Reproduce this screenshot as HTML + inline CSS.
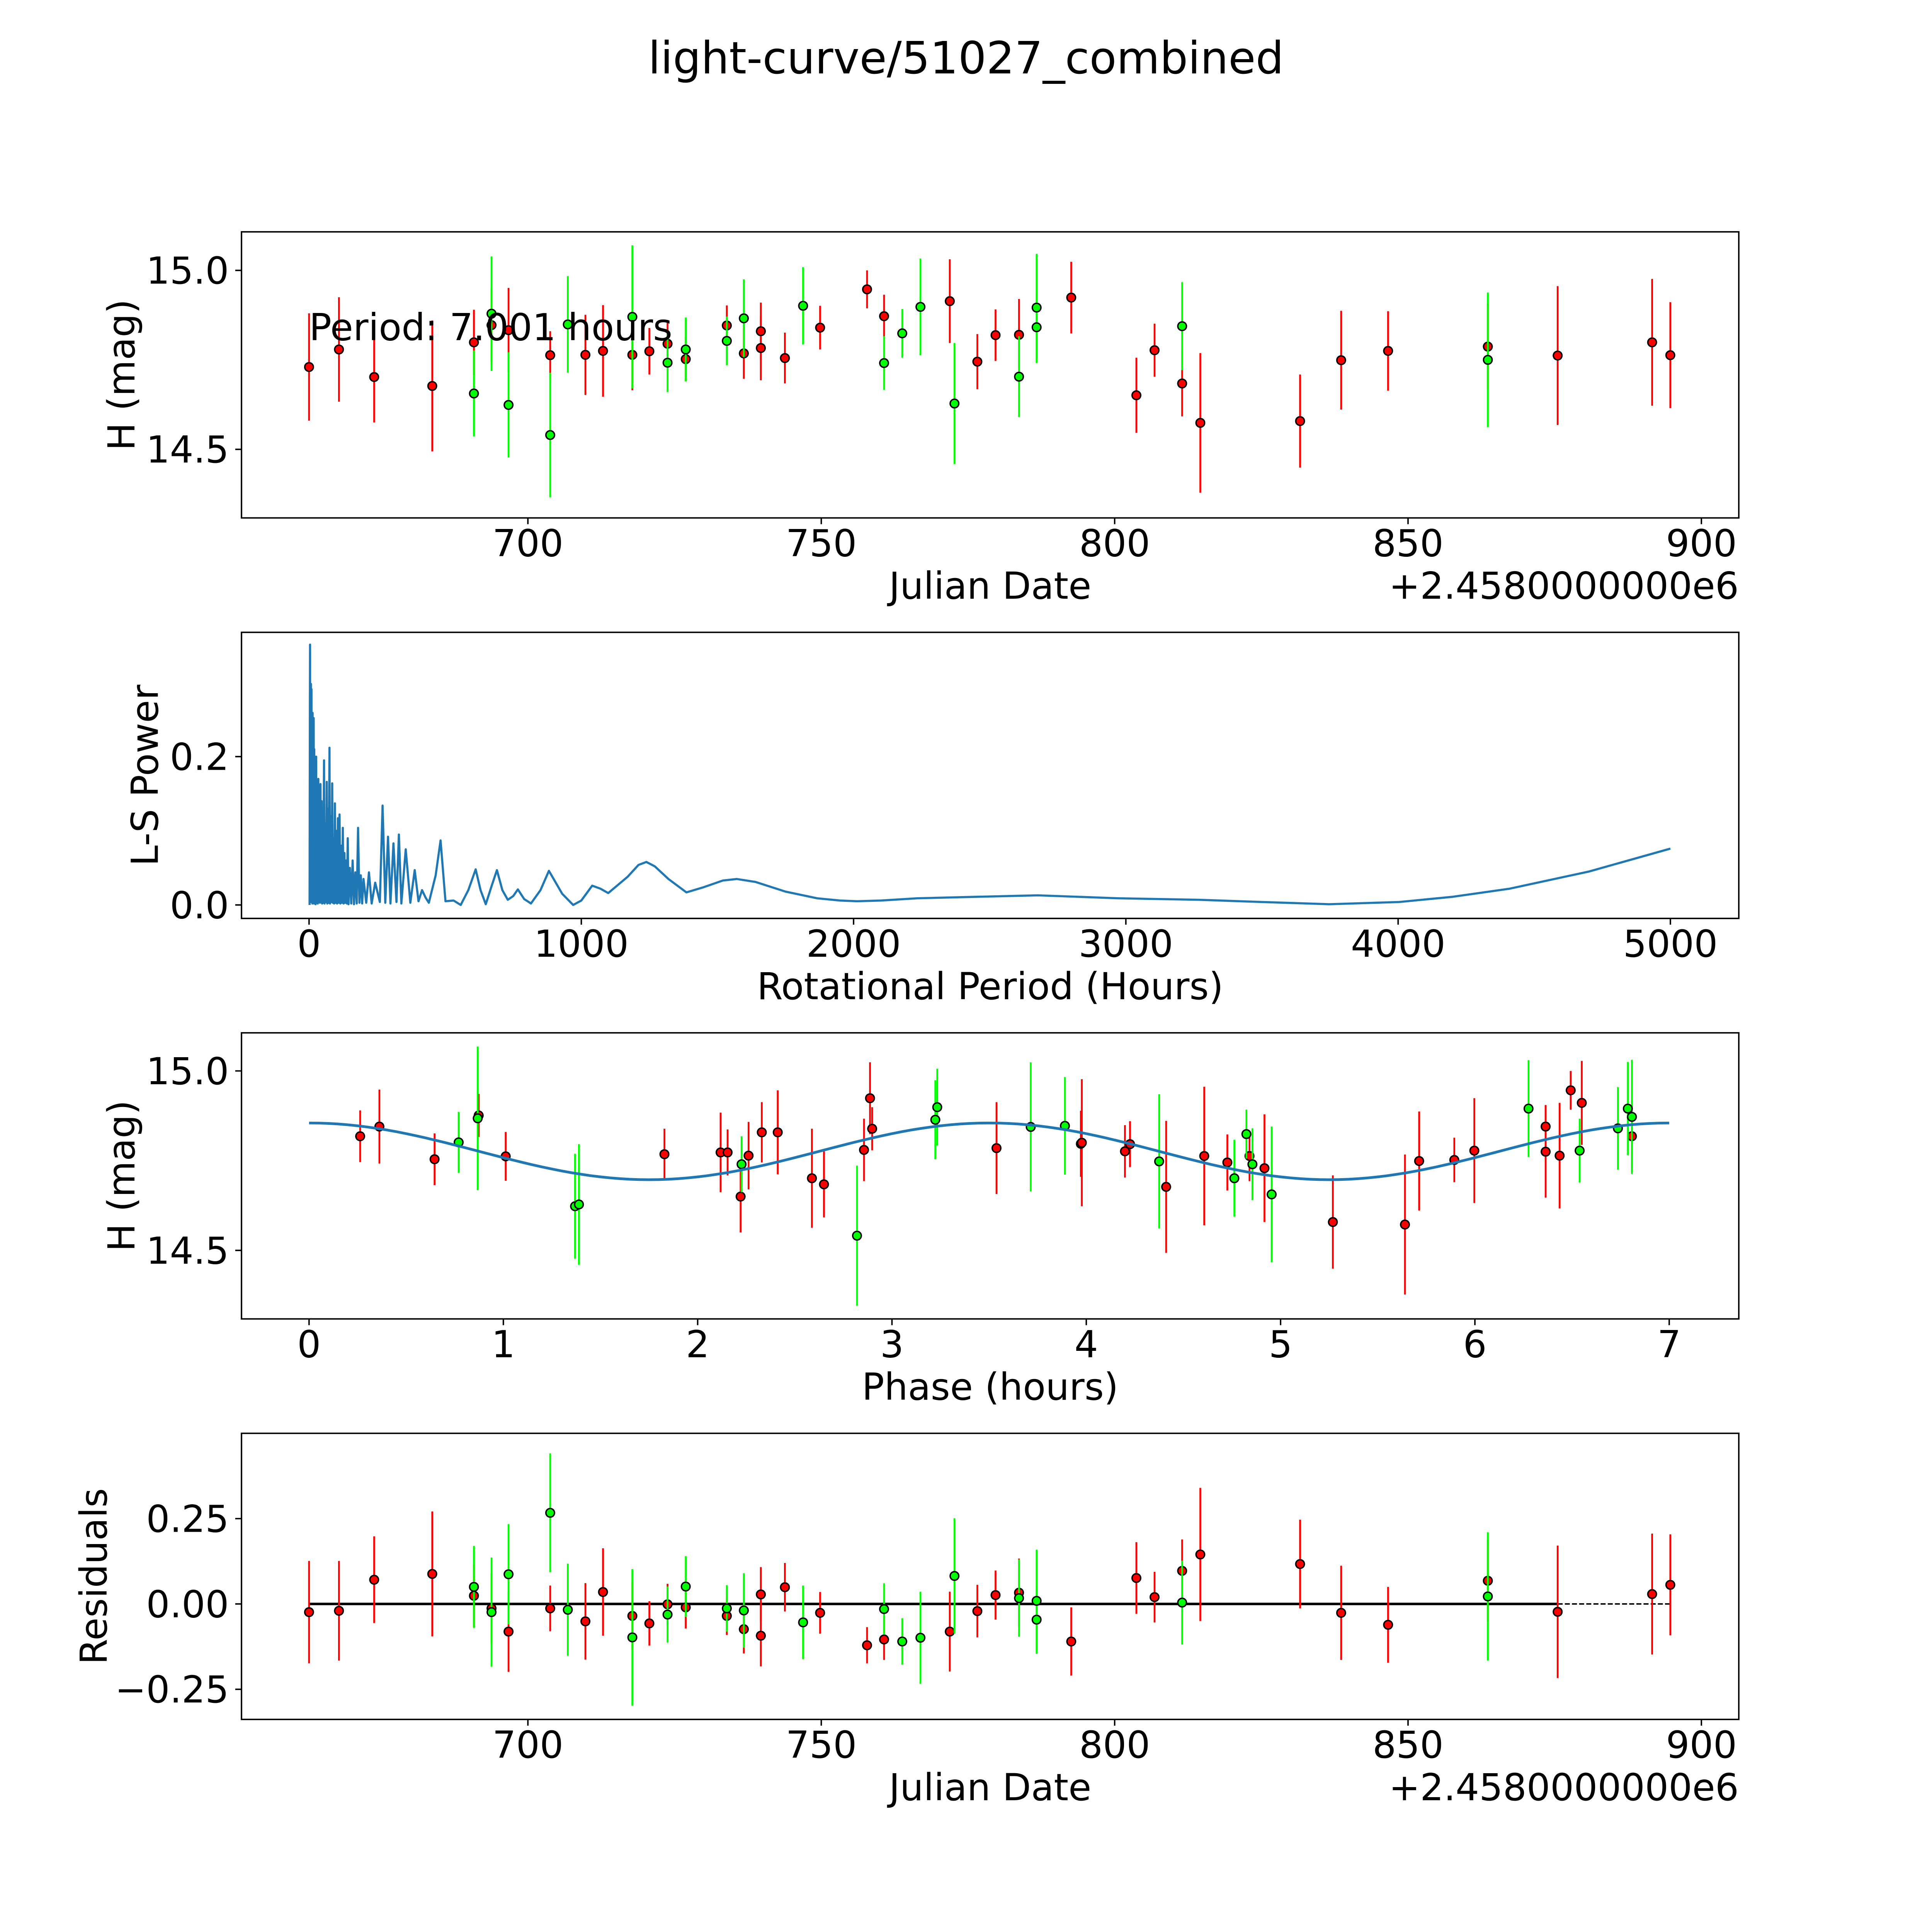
<!DOCTYPE html>
<html><head><meta charset="utf-8"><style>
html,body{margin:0;padding:0;background:#fff;width:100%;height:100%;overflow:hidden}
svg{display:block;position:absolute;left:0;top:0;width:100vw;height:100vh}
text{font-family:"DejaVu Sans","Liberation Sans",sans-serif;fill:#000}
</style></head><body>
<svg id="fig" xmlns="http://www.w3.org/2000/svg" viewBox="0 0 5400 5400" preserveAspectRatio="none">
<rect width="5400" height="5400" fill="#fff"/>
<text x="2700" y="205" font-size="124" text-anchor="middle">light-curve/51027_combined</text>
</svg>
<script>
// ---- Panel 1 / 4 data (Julian date offset from 2458000) ----
const redDates = [662.7,667.8,673.8,683.7,690.8,693.8,696.7,703.8,709.8,712.8,717.8,720.7,723.8,726.9,733.9,736.8,739.7,739.7,743.8,749.8,757.8,760.7,771.9,776.6,779.7,783.7,792.6,803.7,806.8,811.5,814.6,831.6,838.6,846.6,863.6,875.5,891.6,894.7];
const redMags = [14.730,14.779,14.702,14.677,14.799,14.847,14.833,14.763,14.764,14.775,14.764,14.774,14.795,14.752,14.846,14.768,14.830,14.783,14.755,14.840,14.947,14.872,14.914,14.745,14.819,14.820,14.924,14.651,14.777,14.684,14.574,14.579,14.749,14.775,14.787,14.762,14.799,14.763];
const redErrs = [0.150,0.146,0.127,0.183,0.091,0.103,0.118,0.067,0.112,0.128,0.099,0.065,0.060,0.062,0.056,0.071,0.080,0.090,0.071,0.061,0.053,0.060,0.117,0.077,0.072,0.100,0.100,0.105,0.074,0.092,0.195,0.130,0.138,0.111,0.120,0.194,0.177,0.148];
const redResid = [-0.024,-0.020,0.071,0.088,0.024,-0.013,-0.081,-0.013,-0.051,0.035,-0.035,-0.057,-0.001,-0.010,-0.035,-0.074,0.028,-0.093,0.049,-0.026,-0.121,-0.104,-0.081,-0.021,0.026,0.033,-0.110,0.076,0.020,0.097,0.145,0.117,-0.026,-0.061,0.068,-0.023,0.029,0.056];
const greenDates = [690.8,693.8,696.7,703.8,706.8,717.8,723.8,726.9,733.9,736.8,746.9,760.7,763.8,766.9,772.7,783.7,786.7,786.7,811.5,863.6];
const greenMags = [14.656,14.879,14.624,14.540,14.849,14.870,14.742,14.779,14.803,14.866,14.901,14.741,14.824,14.898,14.628,14.703,14.896,14.841,14.844,14.750];
const greenErrs = [0.120,0.160,0.147,0.174,0.135,0.200,0.082,0.089,0.068,0.109,0.108,0.075,0.068,0.135,0.169,0.113,0.150,0.100,0.123,0.188];
const greenResid = [0.050,-0.024,0.087,0.267,-0.017,-0.098,-0.031,0.051,-0.013,-0.019,-0.054,-0.015,-0.110,-0.099,0.082,0.017,0.009,-0.046,0.004,0.022];

// ---- Panel 2: periodogram ----
const lsPeriods = [
2,3,3.7,4.5,5.5,6.5,7,8,9,10,
11,12,13,14,15,16,17,18,19,20,
22,24,26,28,30,32,34,36,38,40,
42,44,46,48,50,52,55,57,60,62,
65,67,70,72,75,77,80,82,85,87,
90,92,95,97,100,103,106,109,112,115,
118,121,124,127,130,133,136,139,142,145,
150,155,160,165,170,175,180,185,190,195,
200,210,220,230,243,260,270,280,290,299,
310,321,330,339,355,372,388,402,415,428,
440,465,483,501,531,557,585,612,630,649,
670,690,710,730,750,767,790,815,850,881,
930,970,1000,1040,1070,1099,1170,1210,1239,1270,
1320,1386,1450,1520,1571,1640,1750,1866,1950,2013,
2100,2234,2450,2677,2972,3267,3500,3746,4004,4200,
4410,4700,5000];
const lsPowers = [
0.000,0.260,0.351,0.010,0.240,0.005,0.298,0.004,0.291,0.006,
0.255,0.002,0.259,0.004,0.230,0.003,0.252,0.002,0.210,0.004,
0.180,0.001,0.200,0.003,0.150,0.002,0.170,0.004,0.100,0.003,
0.163,0.004,0.140,0.002,0.120,0.003,0.195,0.002,0.110,0.004,
0.166,0.002,0.130,0.003,0.212,0.002,0.120,0.004,0.164,0.003,
0.090,0.002,0.137,0.003,0.100,0.002,0.117,0.003,0.122,0.002,
0.080,0.003,0.104,0.002,0.070,0.003,0.060,0.002,0.090,0.001,
0.050,0.002,0.060,0.001,0.044,0.002,0.104,0.003,0.040,0.002,
0.035,0.003,0.044,0.002,0.030,0.004,0.134,0.003,0.092,0.002,
0.083,0.004,0.095,0.002,0.075,0.003,0.047,0.005,0.020,0.010,
0.003,0.040,0.087,0.005,0.006,0.000,0.020,0.048,0.020,0.001,
0.025,0.047,0.020,0.007,0.012,0.021,0.008,0.002,0.020,0.046,
0.015,0.000,0.006,0.026,0.022,0.016,0.038,0.054,0.058,0.052,
0.035,0.017,0.024,0.033,0.035,0.031,0.018,0.009,0.006,0.005,
0.006,0.009,0.011,0.013,0.009,0.007,0.004,0.001,0.004,0.011,
0.022,0.045,0.076];

// ---- Panel 3: phased data ----
const redPhase = [0.263,0.362,0.646,0.873,1.012,1.829,2.118,2.154,2.221,2.262,2.330,2.412,2.588,2.650,2.856,2.887,2.898,3.538,3.972,3.977,4.199,4.225,4.411,4.607,4.726,4.840,4.917,5.269,5.640,5.713,5.894,5.997,6.364,6.364,6.436,6.493,6.550,6.808];
const redPhaseMag = [14.818,14.845,14.754,14.876,14.762,14.768,14.773,14.773,14.650,14.764,14.829,14.829,14.701,14.684,14.780,14.924,14.839,14.785,14.797,14.800,14.776,14.796,14.677,14.763,14.745,14.763,14.729,14.579,14.572,14.749,14.752,14.778,14.845,14.775,14.764,14.946,14.911,14.818];
const redPhaseErr = [0.072,0.103,0.072,0.060,0.068,0.071,0.111,0.064,0.100,0.094,0.084,0.117,0.138,0.092,0.087,0.100,0.060,0.128,0.092,0.177,0.073,0.064,0.184,0.193,0.078,0.070,0.150,0.130,0.195,0.138,0.062,0.146,0.060,0.128,0.147,0.054,0.117,0.100];
const greenPhase = [0.770,0.868,1.369,1.389,2.226,2.820,3.223,3.233,3.714,3.890,4.375,4.762,4.824,4.855,4.954,6.276,6.539,6.736,6.787,6.808];
const greenPhaseMag = [14.801,14.868,14.623,14.628,14.740,14.541,14.864,14.899,14.844,14.847,14.748,14.701,14.824,14.740,14.656,14.895,14.778,14.840,14.895,14.872];
const greenPhaseErr = [0.085,0.200,0.146,0.168,0.078,0.195,0.110,0.107,0.180,0.136,0.187,0.107,0.068,0.100,0.189,0.135,0.089,0.115,0.130,0.159];
const modelMean = 14.776, modelAmp = 0.079, modelPeriod = 3.5;

// ---- layout ----
const NS = 'http://www.w3.org/2000/svg';
const fig = document.getElementById('fig');
const L = 675, R = 4860;
const P1 = {t:648, b:1447.6}, P2 = {t:1767.4, b:2567}, P3 = {t:2886.8, b:3686.4}, P4 = {t:4006.2, b:4805.8};
const xDate = d => 1475.5 + (d - 700) * 16.40;
const yMag1 = m => 755.7 + (15 - m) * 1000.4;
const yRes = r => 4483.1 - r * 954;
const xPhase = p => 863.8 + p * 543.1;
const yMag3 = m => 2993.3 + (15 - m) * 1003.2;
const xPer = h => 863.8 + h * 0.761;
const yPow = v => 2529.4 - v * 2073;

function mk(tag, attrs, parent) {
  const e = document.createElementNS(NS, tag);
  for (const k in attrs) e.setAttribute(k, attrs[k]);
  (parent || fig).appendChild(e);
  return e;
}
function txt(s, attrs, parent) { const e = mk('text', attrs, parent); e.textContent = s; return e; }

function axes(P, name, xticks, xfn, yticks, yfn, xlab, ylab, ylabX, offset) {
  const g = mk('g', {});
  
  
  const fr = mk('rect', {x:L, y:P.t, width:R-L, height:P.b-P.t, fill:'none', stroke:'#000', 'stroke-width':4}, g);
  
  
  xticks.forEach(t => {
    const x = xfn(t.v);
    mk('line', {x1:x, x2:x, y1:P.b, y2:P.b+17.5, stroke:'#000', 'stroke-width':4}, g);
    const tl = txt(t.s, {x:x, y:P.b+107, 'font-size':104, 'text-anchor':'middle'}, g);
    
    
  });
  yticks.forEach(t => {
    const y = yfn(t.v);
    mk('line', {x1:L-17.5, x2:L, y1:y, y2:y, stroke:'#000', 'stroke-width':4}, g);
    const tl = txt(t.s, {x:L-35, y:y+37, 'font-size':104, 'text-anchor':'end'}, g);
    
    
  });
  const xl = txt(xlab, {x:(L+R)/2, y:P.b+226, 'font-size':104, 'text-anchor':'middle'}, g);
  
  
  const cy = (P.t+P.b)/2;
  const yl = txt(ylab, {x:ylabX, y:cy, 'font-size':104, 'text-anchor':'middle', transform:`rotate(-90 ${ylabX} ${cy})`}, g);
  
  
  if (offset) {
    const ot = txt(offset, {x:R, y:P.b+226, 'font-size':104, 'text-anchor':'end'}, g);
    
    
  }
}
function errPoints(xs, ys, es, color, xfn, yfn, name, errScale) {
  const g = mk('g', {});
  
  
  for (let i = 0; i < xs.length; i++) {
    const x = xfn(xs[i]);
    const l = mk('line', {x1:x, x2:x, y1:yfn(ys[i]) - es[i]*errScale, y2:yfn(ys[i]) + es[i]*errScale, stroke:color, 'stroke-width':5}, g);
    
    
  }
  for (let i = 0; i < xs.length; i++) {
    const c = mk('circle', {cx:xfn(xs[i]), cy:yfn(ys[i]), r:12, fill:color, stroke:'#000', 'stroke-width':4}, g);
    
    
  }
}
const dateTicks = [{v:700,s:'700'},{v:750,s:'750'},{v:800,s:'800'},{v:850,s:'850'},{v:900,s:'900'}];

// Panel 1
axes(P1, 'light-curve-panel', dateTicks, xDate, [{v:15,s:'15.0'},{v:14.5,s:'14.5'}], yMag1, 'Julian Date', 'H (mag)', 376, '+2.4580000000e6');
errPoints(redDates, redMags, redErrs, '#ff0000', xDate, yMag1, 'red-series', 1000.4);
errPoints(greenDates, greenMags, greenErrs, '#00ff00', xDate, yMag1, 'green-series', 1000.4);
const per = txt('Period: 7.001 hours', {x:864, y:951, 'font-size':104}, fig);



// Panel 2
axes(P2, 'periodogram-panel', [0,1000,2000,3000,4000,5000].map(v=>({v:v,s:String(v)})), xPer, [{v:0,s:'0.0'},{v:0.2,s:'0.2'}], yPow, 'Rotational Period (Hours)', 'L-S Power', 441, null);
const lsPath = mk('path', {d: lsPeriods.map((p,i)=>(i?'L':'M')+xPer(p).toFixed(1)+' '+yPow(lsPowers[i]).toFixed(1)).join(' '), fill:'none', stroke:'#1f77b4', 'stroke-width':6, 'stroke-linejoin':'round'});



// Panel 3
axes(P3, 'phase-panel', [0,1,2,3,4,5,6,7].map(v=>({v:v,s:String(v)})), xPhase, [{v:15,s:'15.0'},{v:14.5,s:'14.5'}], yMag3, 'Phase (hours)', 'H (mag)', 376, null);
let md = '';
for (let k = 0; k <= 140; k++) { const p = 7*k/140; md += (k?'L':'M') + xPhase(p).toFixed(1) + ' ' + yMag3(modelMean + modelAmp*Math.cos(2*Math.PI*p/modelPeriod)).toFixed(1) + ' '; }
errPoints(redPhase, redPhaseMag, redPhaseErr, '#ff0000', xPhase, yMag3, 'red-phased-series', 1003.2);
errPoints(greenPhase, greenPhaseMag, greenPhaseErr, '#00ff00', xPhase, yMag3, 'green-phased-series', 1003.2);
const model = mk('path', {d:md, fill:'none', stroke:'#1f77b4', 'stroke-width':7.5});



// Panel 4
axes(P4, 'residuals-panel', dateTicks, xDate, [{v:0.25,s:'0.25'},{v:0,s:'0.00'},{v:-0.25,s:'\u22120.25'}], yRes, 'Julian Date', 'Residuals', 298, '+2.4580000000e6');
const z1 = mk('line', {x1:xDate(662.7), x2:xDate(875.5), y1:yRes(0), y2:yRes(0), stroke:'#000', 'stroke-width':7});


const z2 = mk('line', {x1:xDate(875.5), x2:xDate(894.7), y1:yRes(0), y2:yRes(0), stroke:'#000', 'stroke-width':4, 'stroke-dasharray':'14 6'});


errPoints(redDates, redResid, redErrs, '#ff0000', xDate, yRes, 'red-residuals', 954);
errPoints(greenDates, greenResid, greenErrs, '#00ff00', xDate, yRes, 'green-residuals', 954);
</script>
</body></html>
